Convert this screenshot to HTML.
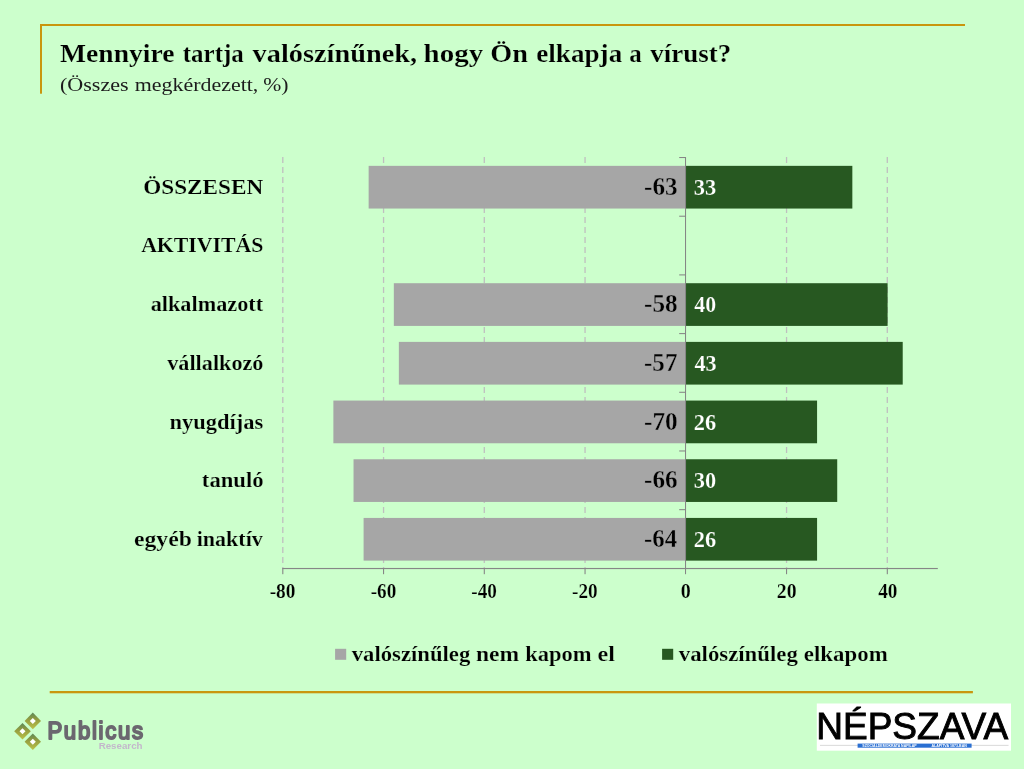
<!DOCTYPE html>
<html lang="hu"><head><meta charset="utf-8"><title>Mennyire tartja valószínűnek, hogy Ön elkapja a vírust?</title>
<style>
html,body{margin:0;padding:0;background:#ccffcc;}
body{width:1024px;height:769px;overflow:hidden;}
svg{display:block;font-family:"Liberation Serif",serif;}
.b{font-weight:bold;}
.sans{font-family:"Liberation Sans",sans-serif;}
</style></head><body>
<svg width="1024" height="769" viewBox="0 0 1024 769">
<rect width="1024" height="769" fill="#ccffcc"/>
<!-- frame lines -->
<rect x="40" y="24" width="925" height="2" fill="#c9960e"/>
<rect x="40" y="24" width="2" height="69.7" fill="#c9960e"/>
<rect x="49.7" y="691" width="923.2" height="2.3" fill="#c9960e"/>
<!-- gridlines -->
<g stroke="#bfbfbf" stroke-width="1.3" stroke-dasharray="6 4" fill="none">
<line x1="282.80" y1="157" x2="282.80" y2="568"/>
<line x1="383.55" y1="157" x2="383.55" y2="568"/>
<line x1="484.30" y1="157" x2="484.30" y2="568"/>
<line x1="585.05" y1="157" x2="585.05" y2="568"/>
<line x1="786.55" y1="157" x2="786.55" y2="568"/>
<line x1="887.30" y1="157" x2="887.30" y2="568"/>
</g>
<!-- bars -->
<rect x="368.64" y="165.85" width="316.86" height="42.7" fill="#a6a6a6"/>
<rect x="686" y="165.85" width="166.34" height="42.7" fill="#275821"/>
<rect x="393.83" y="283.21" width="291.67" height="42.7" fill="#a6a6a6"/>
<rect x="686" y="283.21" width="201.60" height="42.7" fill="#275821"/>
<rect x="398.86" y="341.89" width="286.64" height="42.7" fill="#a6a6a6"/>
<rect x="686" y="341.89" width="216.71" height="42.7" fill="#275821"/>
<rect x="333.38" y="400.57" width="352.12" height="42.7" fill="#a6a6a6"/>
<rect x="686" y="400.57" width="131.07" height="42.7" fill="#275821"/>
<rect x="353.53" y="459.25" width="331.97" height="42.7" fill="#a6a6a6"/>
<rect x="686" y="459.25" width="151.22" height="42.7" fill="#275821"/>
<rect x="363.60" y="517.93" width="321.90" height="42.7" fill="#a6a6a6"/>
<rect x="686" y="517.93" width="131.07" height="42.7" fill="#275821"/>
<!-- axes -->
<g fill="#868686">
<rect x="685" y="157" width="1.05" height="417.2"/>
<rect x="282.4" y="567.95" width="655.4" height="1.15"/>
<rect x="679.2" y="157.00" width="6" height="1.05"/>
<rect x="679.2" y="215.69" width="6" height="1.05"/>
<rect x="679.2" y="274.38" width="6" height="1.05"/>
<rect x="679.2" y="333.07" width="6" height="1.05"/>
<rect x="679.2" y="391.76" width="6" height="1.05"/>
<rect x="679.2" y="450.45" width="6" height="1.05"/>
<rect x="679.2" y="509.14" width="6" height="1.05"/>
<rect x="282.25" y="568" width="1.1" height="6.2"/>
<rect x="383.00" y="568" width="1.1" height="6.2"/>
<rect x="483.75" y="568" width="1.1" height="6.2"/>
<rect x="584.50" y="568" width="1.1" height="6.2"/>
<rect x="786.00" y="568" width="1.1" height="6.2"/>
<rect x="886.75" y="568" width="1.1" height="6.2"/>
</g>
<!-- texts -->
<text class="b" y="62.40" font-size="26" fill="#000" stroke="#ccffcc" stroke-width="0.2"><tspan x="60.06" textLength="114.38" lengthAdjust="spacingAndGlyphs">Mennyire</tspan> <tspan x="182.80" textLength="61.06" lengthAdjust="spacingAndGlyphs">tartja</tspan> <tspan x="252.58" textLength="164.50" lengthAdjust="spacingAndGlyphs">valószínűnek,</tspan> <tspan x="423.61" textLength="59.50" lengthAdjust="spacingAndGlyphs">hogy</tspan> <tspan x="490.23" textLength="37.70" lengthAdjust="spacingAndGlyphs">Ön</tspan> <tspan x="536.29" textLength="85.91" lengthAdjust="spacingAndGlyphs">elkapja</tspan> <tspan x="629.32" textLength="12.50" lengthAdjust="spacingAndGlyphs">a</tspan> <tspan x="650.27" textLength="80.84" lengthAdjust="spacingAndGlyphs">vírust?</tspan></text>
<text y="90.80" font-size="18.6" fill="#1c1c1c"><tspan x="59.90" textLength="68.71" lengthAdjust="spacingAndGlyphs">(Összes</tspan> <tspan x="134.84" textLength="123.49" lengthAdjust="spacingAndGlyphs">megkérdezett,</tspan> <tspan x="263.17" textLength="25.24" lengthAdjust="spacingAndGlyphs">%)</tspan></text>
<text class="b" y="193.60" font-size="22" fill="#000" stroke="#ccffcc" stroke-width="0.2"><tspan x="143.24" textLength="119.96" lengthAdjust="spacingAndGlyphs">ÖSSZESEN</tspan></text>
<text class="b" y="252.28" font-size="22" fill="#000" stroke="#ccffcc" stroke-width="0.2"><tspan x="141.13" textLength="122.37" lengthAdjust="spacingAndGlyphs">AKTIVITÁS</tspan></text>
<text class="b" y="311.36" font-size="20.2" fill="#000" stroke="#ccffcc" stroke-width="0.2"><tspan x="150.67" textLength="112.48" lengthAdjust="spacingAndGlyphs">alkalmazott</tspan></text>
<text class="b" y="370.04" font-size="20.2" fill="#000" stroke="#ccffcc" stroke-width="0.2"><tspan x="167.25" textLength="96.22" lengthAdjust="spacingAndGlyphs">vállalkozó</tspan></text>
<text class="b" y="428.72" font-size="20.2" fill="#000" stroke="#ccffcc" stroke-width="0.2"><tspan x="169.43" textLength="93.85" lengthAdjust="spacingAndGlyphs">nyugdíjas</tspan></text>
<text class="b" y="487.40" font-size="20.2" fill="#000" stroke="#ccffcc" stroke-width="0.2"><tspan x="201.85" textLength="61.82" lengthAdjust="spacingAndGlyphs">tanuló</tspan></text>
<text class="b" y="546.08" font-size="20.2" fill="#000" stroke="#ccffcc" stroke-width="0.2"><tspan x="133.90" textLength="57.97" lengthAdjust="spacingAndGlyphs">egyéb</tspan> <tspan x="196.68" textLength="66.18" lengthAdjust="spacingAndGlyphs">inaktív</tspan></text>
<text class="b" y="195.00" font-size="25" fill="#000" stroke="#a6a6a6" stroke-width="0.35"><tspan x="644.04" textLength="33.62" lengthAdjust="spacingAndGlyphs">-63</tspan></text>
<text class="b" y="194.80" font-size="22.4" fill="#fff" stroke="#275821" stroke-width="0.2"><tspan x="693.85" textLength="22.45" lengthAdjust="spacingAndGlyphs">33</tspan></text>
<text class="b" y="312.36" font-size="25" fill="#000" stroke="#a6a6a6" stroke-width="0.35"><tspan x="644.04" textLength="33.61" lengthAdjust="spacingAndGlyphs">-58</tspan></text>
<text class="b" y="312.16" font-size="22.4" fill="#fff" stroke="#275821" stroke-width="0.2"><tspan x="694.37" textLength="21.81" lengthAdjust="spacingAndGlyphs">40</tspan></text>
<text class="b" y="371.04" font-size="25" fill="#000" stroke="#a6a6a6" stroke-width="0.35"><tspan x="644.04" textLength="33.39" lengthAdjust="spacingAndGlyphs">-57</tspan></text>
<text class="b" y="370.84" font-size="22.4" fill="#fff" stroke="#275821" stroke-width="0.2"><tspan x="694.38" textLength="22.17" lengthAdjust="spacingAndGlyphs">43</tspan></text>
<text class="b" y="429.72" font-size="25" fill="#000" stroke="#a6a6a6" stroke-width="0.35"><tspan x="644.03" textLength="33.75" lengthAdjust="spacingAndGlyphs">-70</tspan></text>
<text class="b" y="429.52" font-size="22.4" fill="#fff" stroke="#275821" stroke-width="0.2"><tspan x="693.74" textLength="22.36" lengthAdjust="spacingAndGlyphs">26</tspan></text>
<text class="b" y="488.40" font-size="25" fill="#000" stroke="#a6a6a6" stroke-width="0.35"><tspan x="644.04" textLength="33.48" lengthAdjust="spacingAndGlyphs">-66</tspan></text>
<text class="b" y="488.20" font-size="22.4" fill="#fff" stroke="#275821" stroke-width="0.2"><tspan x="693.85" textLength="22.37" lengthAdjust="spacingAndGlyphs">30</tspan></text>
<text class="b" y="547.08" font-size="25" fill="#000" stroke="#a6a6a6" stroke-width="0.35"><tspan x="644.08" textLength="33.04" lengthAdjust="spacingAndGlyphs">-64</tspan></text>
<text class="b" y="546.88" font-size="22.4" fill="#fff" stroke="#275821" stroke-width="0.2"><tspan x="693.74" textLength="22.36" lengthAdjust="spacingAndGlyphs">26</tspan></text>
<text class="b" y="597.50" font-size="20.6" fill="#000" stroke="#ccffcc" stroke-width="0.2"><tspan x="269.64" textLength="25.80" lengthAdjust="spacingAndGlyphs">-80</tspan></text>
<text class="b" y="597.50" font-size="20.6" fill="#000" stroke="#ccffcc" stroke-width="0.2"><tspan x="370.71" textLength="25.57" lengthAdjust="spacingAndGlyphs">-60</tspan></text>
<text class="b" y="597.50" font-size="20.6" fill="#000" stroke="#ccffcc" stroke-width="0.2"><tspan x="471.30" textLength="25.58" lengthAdjust="spacingAndGlyphs">-40</tspan></text>
<text class="b" y="597.50" font-size="20.6" fill="#000" stroke="#ccffcc" stroke-width="0.2"><tspan x="572.04" textLength="25.62" lengthAdjust="spacingAndGlyphs">-20</tspan></text>
<text class="b" y="597.50" font-size="20.6" fill="#000" stroke="#ccffcc" stroke-width="0.2"><tspan x="680.80" textLength="10.03" lengthAdjust="spacingAndGlyphs">0</tspan></text>
<text class="b" y="597.50" font-size="20.6" fill="#000" stroke="#ccffcc" stroke-width="0.2"><tspan x="776.86" textLength="19.79" lengthAdjust="spacingAndGlyphs">20</tspan></text>
<text class="b" y="597.50" font-size="20.6" fill="#000" stroke="#ccffcc" stroke-width="0.2"><tspan x="878.13" textLength="19.25" lengthAdjust="spacingAndGlyphs">40</tspan></text>
<text class="b" y="661.20" font-size="21.2" fill="#000" stroke="#ccffcc" stroke-width="0.2"><tspan x="351.75" textLength="118.52" lengthAdjust="spacingAndGlyphs">valószínűleg</tspan> <tspan x="476.00" textLength="43.21" lengthAdjust="spacingAndGlyphs">nem</tspan> <tspan x="525.17" textLength="66.42" lengthAdjust="spacingAndGlyphs">kapom</tspan> <tspan x="597.46" textLength="17.40" lengthAdjust="spacingAndGlyphs">el</tspan></text>
<text class="b" y="661.20" font-size="21.2" fill="#000" stroke="#ccffcc" stroke-width="0.2"><tspan x="678.74" textLength="119.12" lengthAdjust="spacingAndGlyphs">valószínűleg</tspan> <tspan x="803.84" textLength="83.87" lengthAdjust="spacingAndGlyphs">elkapom</tspan></text>
<!-- legend swatches -->
<rect x="335.1" y="648.8" width="11.1" height="11" fill="#a6a6a6"/>
<rect x="662.1" y="648.8" width="11.1" height="11" fill="#275821"/>
<!-- Publicus logo -->
<defs><linearGradient id="og" x1="0" y1="0" x2="0" y2="1"><stop offset="0" stop-color="#5a8858"/><stop offset="0.4" stop-color="#929c40"/><stop offset="1" stop-color="#bcc24a"/></linearGradient></defs>
<g>
<path d="M32.8 712.6 L41 720.9 L32.8 729.2 L24.6 720.9 Z" fill="url(#og)"/>
<path d="M22.5 723 L30.8 731.3 L22.5 739.6 L14.2 731.3 Z" fill="url(#og)"/>
<path d="M32.8 733.4 L41 741.7 L32.8 750 L24.6 741.7 Z" fill="url(#og)"/>
<path d="M32.8 717.9 L35.8 720.9 L32.8 723.9 L29.8 720.9 Z" fill="#fff"/>
<path d="M22.5 728.3 L25.5 731.3 L22.5 734.3 L19.5 731.3 Z" fill="#fff"/>
<path d="M32.8 738.7 L35.8 741.7 L32.8 744.7 L29.8 741.7 Z" fill="#fff"/>
</g>
<text class="sans" transform="translate(47.4 738.9) scale(0.9 1)" font-size="24.6" letter-spacing="1.9" fill="#6b676f" stroke="#6b676f" stroke-width="2" stroke-linejoin="round" stroke-linecap="round">Publicus</text>
<text class="sans b" x="98.7" y="749.1" font-size="8.4" textLength="43.8" lengthAdjust="spacingAndGlyphs" fill="#c3b7cb">Research</text>
<!-- Nepszava logo -->
<rect x="816.8" y="703.5" width="194.2" height="47.2" fill="#fff"/>
<text class="sans" x="816.2" y="739.0" font-size="37.6" textLength="192.1" lengthAdjust="spacingAndGlyphs" fill="#000" stroke="#000" stroke-width="0.9">NÉPSZAVA</text>
<rect x="820" y="744.9" width="188.5" height="0.7" fill="#c8c8c8"/>
<rect x="857.6" y="743.6" width="114" height="4.1" fill="#2a6fd2"/>
<text class="sans b" x="862.3" y="746.8" font-size="3.1" textLength="54.3" lengthAdjust="spacingAndGlyphs" fill="#fff">SZOCIÁLDEMOKRATA NAPILAP</text>
<text class="sans b" x="931.4" y="746.8" font-size="3.1" textLength="35.5" lengthAdjust="spacingAndGlyphs" fill="#fff">ALAPÍTVA 1873-BAN</text>

</svg></body></html>
